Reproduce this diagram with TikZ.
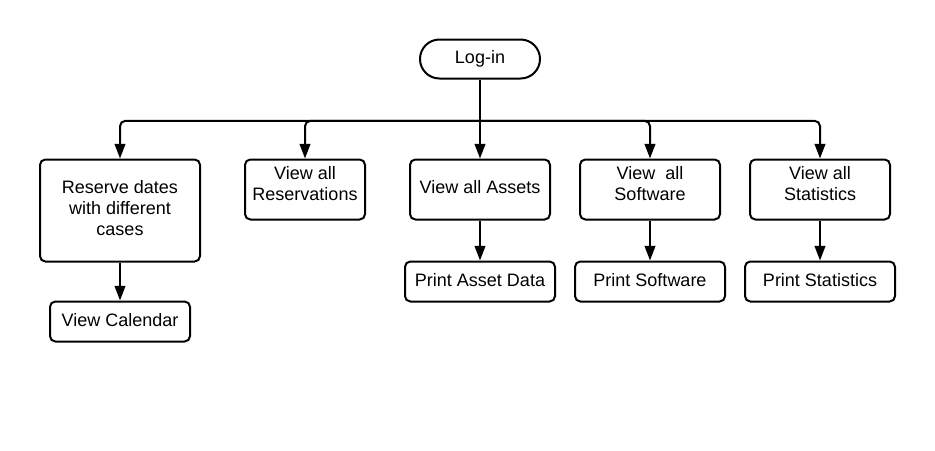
\documentclass[tikz,border=0pt]{standalone}
\usepackage{fontspec}
\setmainfont{Liberation Sans}
\usetikzlibrary{arrows.meta,positioning}

\begin{document}
\begin{tikzpicture}[->,>={Triangle[length=11pt,width=8pt]},line width=1.5pt,node distance=28.5pt,
  box/.style={draw,rectangle,rounded corners=4pt,align=center,inner sep=2pt,
    font=\fontsize{13.5pt}{15.75pt}\selectfont},
  startbox/.style={box,rounded corners=14.6pt,minimum width=90pt,minimum height=29.25pt},
  topbox/.style={box,minimum width=105pt,minimum height=45pt,text depth=8.5pt},
  printbox/.style={box,minimum width=112.5pt,minimum height=30pt,text depth=2pt},
  branch/.style={rounded corners=4pt,to path={-| (\tikztotarget)}}]

  \useasboundingbox (0,0) rectangle (701.25pt,-337.5pt);

  \node[startbox] (login) at (360pt,-44.25pt) {Log-in};
  \coordinate[below=31pt of login] (bus);

  \node[topbox,text depth=3.75pt] (assets) [below=59.25pt of login] {View all Assets};
  \node[topbox] (software) [right=21pt of assets.north east,anchor=north west] {View \ all\\Software};
  \node[topbox] (statistics) [right=21pt of software.north east,anchor=north west] {View all\\Statistics};
  \node[topbox,minimum width=90pt] (reservations) [left=32.25pt of assets.north west,anchor=north east] {View all\\Reservations};
  \node[topbox,minimum width=120pt,minimum height=76.5pt,text depth=3.5pt] (reserve) [left=32.25pt of reservations.north west,anchor=north east] {Reserve dates\\with different\\cases};

  \node[printbox,minimum width=105pt,text depth=2pt] (calendar) [below=of reserve] {View Calendar};
  \node[printbox] (assetdata) [below=30pt of assets] {Print Asset Data};
  \node[printbox] (printsoft) [below=30pt of software] {Print Software};
  \node[printbox] (printstat) [below=30pt of statistics] {Print Statistics};

  \path (login)   edge (assets)
        (bus)     edge [branch] (reserve)
                  edge [branch] (reservations)
                  edge [branch] (software)
                  edge [branch] (statistics)
        (reserve) edge (calendar)
        (assets)  edge (assetdata)
        (software) edge (printsoft)
        (statistics) edge (printstat);

\end{tikzpicture}
\end{document}
